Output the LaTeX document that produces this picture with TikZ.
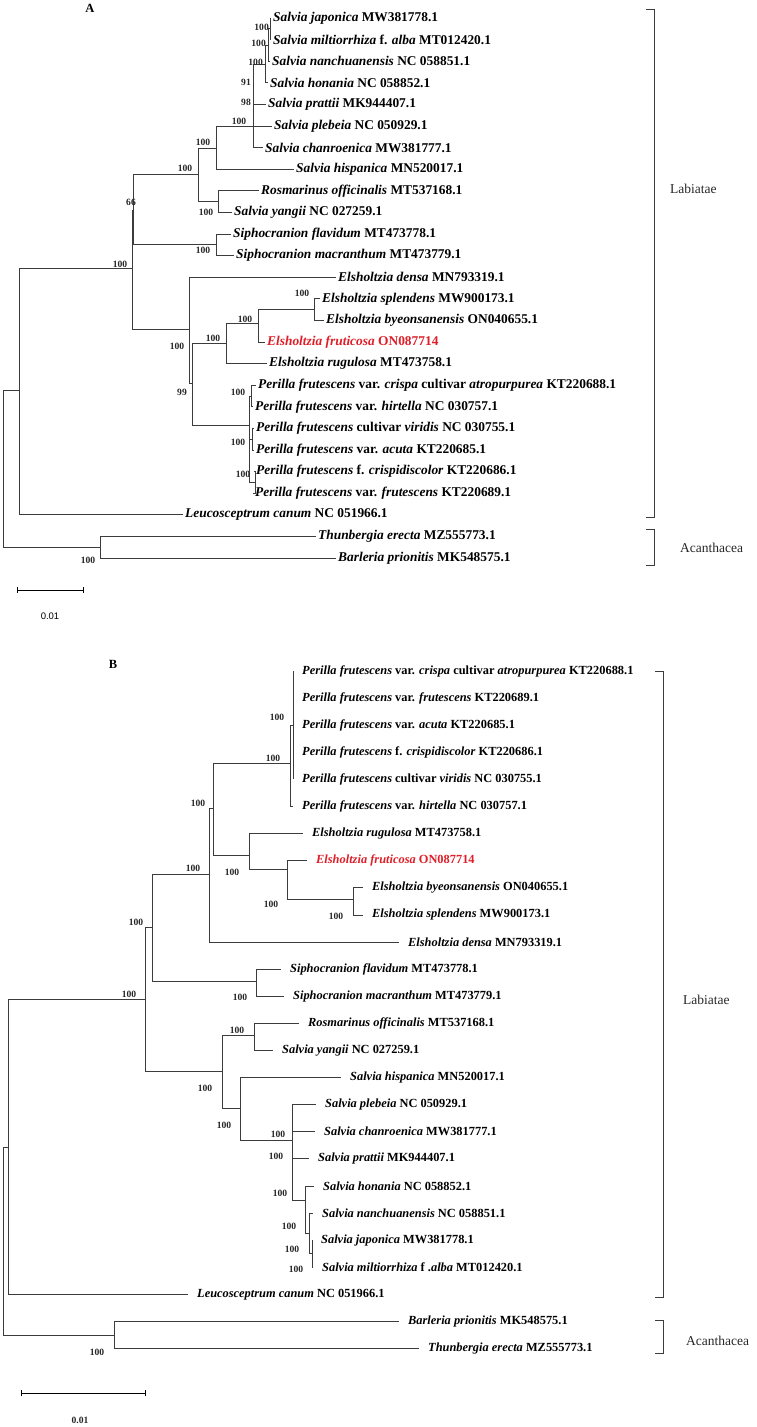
\documentclass[tikz,border=0pt]{standalone}
\usepackage{fontspec}
\setmainfont{Liberation Serif}
\newfontfamily\arialf{Liberation Sans}
\definecolor{redlab}{RGB}{222,30,40}
\definecolor{brc}{RGB}{60,60,60}
\begin{document}
\begin{tikzpicture}[x=1pt,y=-1pt,
  leafA/.style={anchor=west,inner xsep=2pt,inner ysep=0pt,font=\bfseries\fontsize{13.4}{15}\selectfont},
  leafB/.style={anchor=west,inner xsep=9pt,inner ysep=0pt,font=\bfseries\fontsize{12.4}{14}\selectfont},
  bs/.style={inner sep=0pt,font=\bfseries\fontsize{9.6}{11}\selectfont,text=black!85},
  br/.style={draw=brc,line width=0.8pt},
  grp/.style={anchor=west,inner sep=0pt,font=\fontsize{13.5}{15}\selectfont,text=black!85}]
\useasboundingbox (0,0) rectangle (757,1427);
\newcommand\lfA[4]{\node[leafA] (#1) at (#2-2,#3) {#4};}
\newcommand\lfB[4]{\node[leafB] (#1) at (#2-9,#3) {#4};}
\newcommand\ed[2]{\draw[br] (#1) |- (#2);}
% ================= A =================
\node[inner sep=0pt,font=\bfseries\fontsize{12.5}{14}\selectfont] (labA) at (90,8) {A};
\lfA{a0}{273}{18}{\textit{Salvia japonica} MW381778.1}
\lfA{a1}{273}{39.6}{\textit{Salvia miltiorrhiza} f. \textit{alba} MT012420.1}
\lfA{a2}{272}{61.2}{\textit{Salvia nanchuanensis} NC 058851.1}
\lfA{a3}{270}{82.8}{\textit{Salvia honania} NC 058852.1}
\lfA{a4}{268}{104.4}{\textit{Salvia prattii} MK944407.1}
\lfA{a5}{274}{126}{\textit{Salvia plebeia} NC 050929.1}
\lfA{a6}{265}{147.6}{\textit{Salvia chanroenica} MW381777.1}
\lfA{a7}{296}{169.2}{\textit{Salvia hispanica} MN520017.1}
\lfA{a8}{261}{190.8}{\textit{Rosmarinus officinalis} MT537168.1}
\lfA{a9}{234}{212.4}{\textit{Salvia yangii} NC 027259.1}
\lfA{a10}{233}{234}{\textit{Siphocranion flavidum} MT473778.1}
\lfA{a11}{236}{255.6}{\textit{Siphocranion macranthum} MT473779.1}
\lfA{a12}{338}{277.2}{\textit{Elsholtzia densa} MN793319.1}
\lfA{a13}{322}{298.8}{\textit{Elsholtzia splendens} MW900173.1}
\lfA{a14}{326}{320.4}{\textit{Elsholtzia byeonsanensis} ON040655.1}
\lfA{a15}{267}{342}{\color{redlab}\textit{Elsholtzia fruticosa} ON087714}
\lfA{a16}{269}{363.6}{\textit{Elsholtzia rugulosa} MT473758.1}
\lfA{a17}{258}{385.2}{\textit{Perilla frutescens} var. \textit{crispa} cultivar \textit{atropurpurea} KT220688.1}
\lfA{a18}{255}{406.8}{\textit{Perilla frutescens} var. \textit{hirtella} NC 030757.1}
\lfA{a19}{256}{428.4}{\textit{Perilla frutescens} cultivar \textit{viridis} NC 030755.1}
\lfA{a20}{256}{450}{\textit{Perilla frutescens} var. \textit{acuta} KT220685.1}
\lfA{a21}{256}{471.6}{\textit{Perilla frutescens} f. \textit{crispidiscolor} KT220686.1}
\lfA{a22}{255}{493.2}{\textit{Perilla frutescens} var. \textit{frutescens} KT220689.1}
\lfA{a23}{185}{514.8}{\textit{Leucosceptrum canum} NC 051966.1}
\lfA{a24}{318}{536.4}{\textit{Thunbergia erecta} MZ555773.1}
\lfA{a25}{338}{558}{\textit{Barleria prionitis} MK548575.1}
\coordinate (S6) at (270,28.8);
\coordinate (S5) at (268,45);
\coordinate (S4) at (265,64);
\coordinate (S3) at (253,126);
\coordinate (S2) at (216,148);
\coordinate (Ros) at (218,201.6);
\coordinate (S1) at (198,174);
\coordinate (Siph) at (216,244.8);
\coordinate (N66) at (133,210);
\coordinate (NE4) at (314,309.6);
\coordinate (NE3) at (258,323);
\coordinate (Els) at (226,343);
\coordinate (P1) at (251,396);
\coordinate (P2) at (252,439);
\coordinate (P3) at (255,482);
\coordinate (Per) at (249,425);
\coordinate (NE2) at (192,383);
\coordinate (NE) at (189,329);
\coordinate (NA) at (132,268);
\coordinate (L1) at (19,390);
\coordinate (Ac) at (100,547);
\coordinate (R) at (3,468);
\ed{S6}{a0.west}\ed{S6}{a1.west}
\ed{S5}{S6}\ed{S5}{a2.west}
\ed{S4}{S5}\ed{S4}{a3.west}
\ed{S3}{S4}\ed{S3}{a4.west}\ed{S3}{a5.west}\ed{S3}{a6.west}
\ed{S2}{S3}\ed{S2}{a7.west}
\ed{Ros}{a8.west}\ed{Ros}{a9.west}
\ed{S1}{S2}\ed{S1}{Ros}
\ed{Siph}{a10.west}\ed{Siph}{a11.west}
\ed{N66}{S1}\ed{N66}{Siph}
\ed{NE4}{a13.west}\ed{NE4}{a14.west}
\ed{NE3}{NE4}\ed{NE3}{a15.west}
\ed{Els}{NE3}\ed{Els}{a16.west}
\ed{P1}{a17.west}\ed{P1}{a18.west}
\ed{P2}{a19.west}\ed{P2}{a20.west}
\ed{P3}{a21.west}\ed{P3}{a22.west}
\ed{Per}{P1}\ed{Per}{P2}\ed{Per}{P3}
\ed{NE2}{Els}\ed{NE2}{Per}
\ed{NE}{a12.west}\ed{NE}{NE2}
\ed{NA}{N66}\ed{NA}{NE}
\ed{L1}{NA}\ed{L1}{a23.west}
\ed{Ac}{a24.west}\ed{Ac}{a25.west}
\ed{R}{L1}\ed{R}{Ac}
% bootstrap A
\node[bs,anchor=east] (ba1) at (269,27) {100};
\node[bs,anchor=east] (ba2) at (266,43) {100};
\node[bs,anchor=east] (ba3) at (263,62) {100};
\node[bs,anchor=east] (ba4) at (251,82) {91};
\node[bs,anchor=east] (ba5) at (251,102) {98};
\node[bs] (ba6) at (239,121) {100};
\node[bs] (ba7) at (203,142) {100};
\node[bs] (ba8) at (185,168) {100};
\node[bs] (ba9) at (206,212) {100};
\node[bs] (ba10) at (131,202) {66};
\node[bs] (ba11) at (203,250) {100};
\node[bs] (ba12) at (120,264) {100};
\node[bs] (ba13) at (302,293) {100};
\node[bs] (ba14) at (245,319) {100};
\node[bs] (ba15) at (213,338) {100};
\node[bs] (ba16) at (177,346) {100};
\node[bs] (ba17) at (182,392) {99};
\node[bs] (ba18) at (238,392) {100};
\node[bs] (ba19) at (238,442) {100};
\node[bs] (ba20) at (243,474) {100};
\node[bs] (ba21) at (88,560) {100};
% brackets A
\draw[br,line width=0.7pt] (646,9) -- (654,9) -- (654,517) -- (646,517);
\draw[br,line width=0.7pt] (646,529) -- (654,529) -- (654,565) -- (646,565);
\node[grp] (labiA) at (670,189) {Labiatae};
\node[grp] (acanA) at (680,548) {Acanthacea};
% scale A
\coordinate (sa1) at (17,590); \coordinate (sa2) at (83,590);
\draw[black,line width=1pt] (sa1) -- (sa2);
\draw[black,line width=1pt] ([yshift=-3]sa1) -- ([yshift=3]sa1) ([yshift=-3]sa2) -- ([yshift=3]sa2);
\node[inner sep=0pt,font=\arialf\fontsize{9.5}{10}\selectfont] (scA) at (50,616) {0.01};
% ================= B =================
\node[inner sep=0pt,font=\bfseries\fontsize{12.5}{14}\selectfont] (labB) at (113,664) {B};
\lfB{b0}{302}{671}{\textit{Perilla frutescens} var. \textit{crispa} cultivar \textit{atropurpurea} KT220688.1}
\lfB{b1}{302}{698.1}{\textit{Perilla frutescens} var. \textit{frutescens} KT220689.1}
\lfB{b2}{302}{725.2}{\textit{Perilla frutescens} var. \textit{acuta} KT220685.1}
\lfB{b3}{302}{752.3}{\textit{Perilla frutescens} f. \textit{crispidiscolor} KT220686.1}
\lfB{b4}{302}{779.4}{\textit{Perilla frutescens} cultivar \textit{viridis} NC 030755.1}
\lfB{b5}{302}{806.5}{\textit{Perilla frutescens} var. \textit{hirtella} NC 030757.1}
\lfB{b6}{312}{833.6}{\textit{Elsholtzia rugulosa} MT473758.1}
\lfB{b7}{316}{860.7}{\color{redlab}\textit{Elsholtzia fruticosa} ON087714}
\lfB{b8}{372}{887.8}{\textit{Elsholtzia byeonsanensis} ON040655.1}
\lfB{b9}{372}{914.9}{\textit{Elsholtzia splendens} MW900173.1}
\lfB{b10}{408}{942}{\textit{Elsholtzia densa} MN793319.1}
\lfB{b11}{290}{969.1}{\textit{Siphocranion flavidum} MT473778.1}
\lfB{b12}{293}{996.2}{\textit{Siphocranion macranthum} MT473779.1}
\lfB{b13}{308}{1023.3}{\textit{Rosmarinus officinalis} MT537168.1}
\lfB{b14}{282}{1050.4}{\textit{Salvia yangii} NC 027259.1}
\lfB{b15}{350}{1077.5}{\textit{Salvia hispanica} MN520017.1}
\lfB{b16}{325}{1104.6}{\textit{Salvia plebeia} NC 050929.1}
\lfB{b17}{324}{1131.7}{\textit{Salvia chanroenica} MW381777.1}
\lfB{b18}{318}{1158.8}{\textit{Salvia prattii} MK944407.1}
\lfB{b19}{323}{1185.9}{\textit{Salvia honania} NC 058852.1}
\lfB{b20}{322}{1213}{\textit{Salvia nanchuanensis} NC 058851.1}
\lfB{b21}{321}{1240.1}{\textit{Salvia japonica} MW381778.1}
\lfB{b22}{322}{1267.2}{\textit{Salvia miltiorrhiza} f .\textit{alba} MT012420.1}
\lfB{b23}{197}{1294.3}{\textit{Leucosceptrum canum} NC 051966.1}
\lfB{b24}{408}{1321.4}{\textit{Barleria prionitis} MK548575.1}
\lfB{b25}{428}{1348.5}{\textit{Thunbergia erecta} MZ555773.1}
\coordinate (Pin) at (293,725);
\coordinate (PerB) at (290,763);
\coordinate (E3) at (353,899);
\coordinate (E2) at (287,869);
\coordinate (ElsB) at (249,855);
\coordinate (NB3) at (213,808);
\coordinate (NB2) at (209,874);
\coordinate (SiphB) at (256,981);
\coordinate (NB1) at (152,927);
\coordinate (NB) at (145,999);
\coordinate (RosB) at (254,1035);
\coordinate (S6B) at (312,1253);
\coordinate (S5B) at (309,1233);
\coordinate (S4B) at (305,1200);
\coordinate (S3B) at (292,1140);
\coordinate (S2B) at (240,1108);
\coordinate (SalB) at (222,1071);
\coordinate (LB) at (8,1147);
\coordinate (AcB) at (114,1335);
\coordinate (RB) at (3,1241);
\ed{Pin}{b0.west}\ed{Pin}{b1.west}\ed{Pin}{b2.west}\ed{Pin}{b3.west}\ed{Pin}{b4.west}
\ed{PerB}{Pin}\ed{PerB}{b5.west}
\ed{E3}{b8.west}\ed{E3}{b9.west}
\ed{E2}{b7.west}\ed{E2}{E3}
\ed{ElsB}{b6.west}\ed{ElsB}{E2}
\ed{NB3}{PerB}\ed{NB3}{ElsB}
\ed{NB2}{NB3}\ed{NB2}{b10.west}
\ed{SiphB}{b11.west}\ed{SiphB}{b12.west}
\ed{NB1}{NB2}\ed{NB1}{SiphB}
\ed{NB}{NB1}\ed{NB}{SalB}
\ed{RosB}{b13.west}\ed{RosB}{b14.west}
\ed{S6B}{b21.west}\ed{S6B}{b22.west}
\ed{S5B}{b20.west}\ed{S5B}{S6B}
\ed{S4B}{b19.west}\ed{S4B}{S5B}
\ed{S3B}{b16.west}\ed{S3B}{b17.west}\ed{S3B}{b18.west}\ed{S3B}{S4B}
\ed{S2B}{b15.west}\ed{S2B}{S3B}
\ed{SalB}{RosB}\ed{SalB}{S2B}
\ed{LB}{NB}\ed{LB}{b23.west}
\ed{AcB}{b24.west}\ed{AcB}{b25.west}
\ed{RB}{LB}\ed{RB}{AcB}
% bootstrap B
\node[bs] (bb1) at (277,717) {100};
\node[bs] (bb2) at (273,758) {100};
\node[bs] (bb3) at (198,803) {100};
\node[bs] (bb4) at (193,868) {100};
\node[bs] (bb5) at (136,922) {100};
\node[bs] (bb6) at (129,994) {100};
\node[bs] (bb7) at (232,872) {100};
\node[bs] (bb8) at (271,904) {100};
\node[bs] (bb9) at (336,916) {100};
\node[bs] (bb10) at (240,997) {100};
\node[bs] (bb11) at (237,1030) {100};
\node[bs] (bb12) at (205,1088) {100};
\node[bs] (bb13) at (224,1125) {100};
\node[bs] (bb14) at (278,1134) {100};
\node[bs] (bb15) at (276,1156) {100};
\node[bs] (bb16) at (280,1193) {100};
\node[bs] (bb17) at (289,1226) {100};
\node[bs] (bb18) at (292,1249) {100};
\node[bs] (bb19) at (296,1269) {100};
\node[bs] (bb20) at (97,1352) {100};
% brackets B
\draw[br,line width=0.7pt] (655,671) -- (663,671) -- (663,1297) -- (655,1297);
\draw[br,line width=0.7pt] (655,1320) -- (663,1320) -- (663,1353) -- (655,1353);
\node[grp] (labiB) at (683,1000) {Labiatae};
\node[grp] (acanB) at (686,1341) {Acanthacea};
% scale B
\coordinate (sb1) at (21,1393); \coordinate (sb2) at (145,1393);
\draw[black,line width=1pt] (sb1) -- (sb2);
\draw[black,line width=1pt] ([yshift=-3]sb1) -- ([yshift=3]sb1) ([yshift=-3]sb2) -- ([yshift=3]sb2);
\node[bs] (scB) at (80,1420) {0.01};
\end{tikzpicture}
\end{document}
